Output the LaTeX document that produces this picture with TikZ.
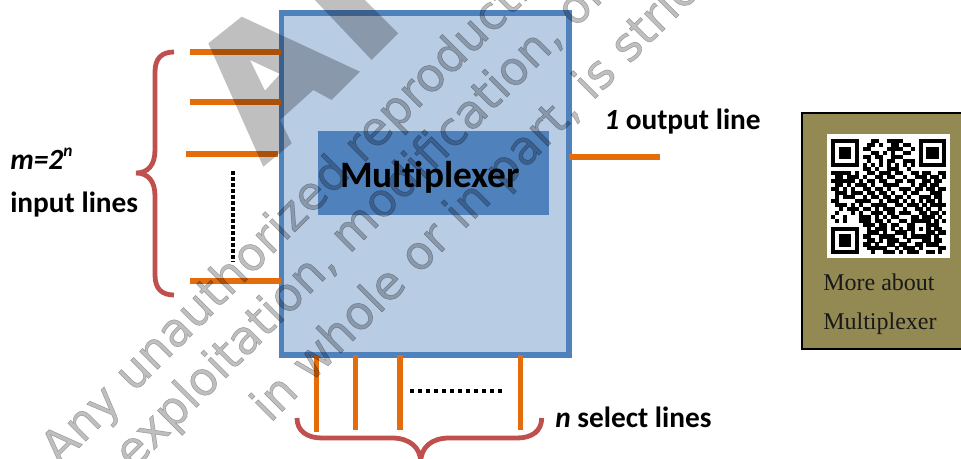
\documentclass[tikz,border=0pt]{standalone}
\usepackage{fontspec}
\setmainfont[Ligatures=NoCommon]{Carlito}
\newfontfamily\serifpanel{Liberation Serif}
\newfontfamily\markfont[FakeBold=1.2]{DejaVu Sans}
\definecolor{boxfill}{RGB}{184,204,228}
\definecolor{boxblue}{RGB}{79,129,189}
\definecolor{lineorange}{RGB}{228,108,10}
\definecolor{bracered}{RGB}{192,80,77}
\definecolor{olive}{RGB}{147,137,83}
\newcount\qrcol
\newcount\qrrownum
\newcommand{\qrscan}[1]{\ifx#1.\else\if#11\fill[black] ({831+3.98*\qrcol-0.05},{139+3.98*\qrrownum-0.05}) rectangle ++(4.08,4.08);\fi\global\advance\qrcol by 1 \expandafter\qrscan\fi}
\tikzset{
  x=0.75pt,y=-0.75pt,
  wire/.style={draw=lineorange,line width=3.9pt},
  brace/.style={draw=bracered,line width=3.6pt},
  dotsv/.style={draw=black,line width=3pt,dash pattern=on 2.7pt off 1.8pt},
  dotsh/.style={draw=black,line width=3pt,dash pattern=on 3pt off 3pt},
  lab/.style={font=\bfseries\fontsize{22}{25}\selectfont,inner sep=0pt,anchor=base west},
  paneltext/.style={font=\serifpanel\fontsize{18}{20}\selectfont,text=black!90,inner sep=0pt,anchor=base west},
  wm/.style={font=\markfont\fontsize{35}{40}\selectfont,text=black,text opacity=0.25,rotate=45,anchor=base west,inner sep=0pt},
}
\begin{document}
\begin{tikzpicture}
\useasboundingbox (0,0) rectangle (961,458);
% main block
\node[draw=boxblue,fill=boxfill,line width=4.2pt,minimum width=215.6pt,minimum height=256.5pt,inner sep=0pt,outer sep=0pt] (mux) at (425.25,184) {};
\node[fill=boxblue,minimum width=173.5pt,minimum height=63.2pt,inner sep=0pt,outer sep=0pt] (core) at (433.6,172.8) {};
\node[font=\bfseries\fontsize{28}{31}\selectfont,inner sep=0pt] (coretext) at (430,177) {Multiplexer};
% inputs
\coordinate (i1a) at (190,52); \coordinate (i1b) at (281,52);
\coordinate (i2a) at (190,102); \coordinate (i2b) at (281,102);
\coordinate (i3a) at (186,154); \coordinate (i3b) at (278,154);
\coordinate (i4a) at (190,281); \coordinate (i4b) at (281,281);
\coordinate (oa) at (569,157); \coordinate (ob) at (660,157);
\draw[wire] (i1a) -- (i1b);
\draw[wire] (i2a) -- (i2b);
\draw[wire] (i3a) -- (i3b);
\draw[wire] (i4a) -- (i4b);
\draw[wire] (oa) -- (ob);
% selects
\coordinate (s1a) at (316.7,356); \coordinate (s1b) at (316.7,431.5);
\coordinate (s2a) at (355.7,355); \coordinate (s2b) at (355.7,430);
\coordinate (s3a) at (400,355); \coordinate (s3b) at (400,430);
\coordinate (s4a) at (520.7,355); \coordinate (s4b) at (520.7,430);
\draw[wire] (s1a) -- (s1b);
\draw[wire] (s2a) -- (s2b);
\draw[wire] (s3a) -- (s3b);
\draw[wire] (s4a) -- (s4b);
% dots
\coordinate (dva) at (233,171); \coordinate (dvb) at (233,262);
\coordinate (dha) at (410,391); \coordinate (dhb) at (503,391);
\draw[dotsv] (dva) -- (dvb);
\draw[dotsh] (dha) -- (dhb);
% braces
\coordinate (lbt) at (174,52); \coordinate (lbm) at (136,173); \coordinate (lbb) at (174,295);
\draw[brace] (lbt) .. controls (162,52) and (155,58) .. (155,72) -- (155,150) .. controls (155,165) and (148,173) .. (lbm) .. controls (148,173) and (155,181) .. (155,196) -- (155,275) .. controls (155,289) and (162,295) .. (lbb);
\coordinate (bbl) at (297,418); \coordinate (bbm) at (420.7,462); \coordinate (bbr) at (541.7,418);
\draw[brace] (bbl) .. controls (297,431) and (307,438) .. (322,438) -- (392,438) .. controls (410,438) and (420.7,448) .. (bbm) .. controls (420.7,448) and (431,438) .. (449,438) -- (517,438) .. controls (532,438) and (541.7,431) .. (bbr);
% labels
\node[lab] (mlab) at (10,169) {\textit{m=2\raisebox{0.42em}{\fontsize{13}{14}\selectfont n}}};
\node[lab] (ilab) at (10,212) {input lines};
\node[lab] (olab) at (604,129) {\textit{1} output line};
\node[lab] (slab) at (555,427) {\textit{n} select lines};
% watermark
\begin{scope}
\clip (0,0) rectangle (790,458);
\fill[black,opacity=0.25,even odd rule] (241.7,16.7) -- (208.3,43.3) -- (263.3,166.7) -- (291.7,143.3) -- (280,120) -- (313.3,90) -- (331.7,100) -- (360,71.7) -- cycle (250,60) -- (280,74) -- (265,90.7) -- cycle;
\fill[black,opacity=0.25] (313,-2) -- (371.7,60) -- (398.3,33.3) -- (363,-2) -- cycle;
\node[wm] (w1) at (60,467) {Any unauthorized reproduction,};
\node[wm] (w2) at (133,471) {exploitation, modification, or};
\node[wm] (w3) at (270,424) {in whole or in part, is strictly};
\end{scope}
% panel
\node[draw=black,fill=olive,line width=1.5pt,minimum width=130pt,minimum height=177pt,inner sep=0pt,outer sep=0pt,anchor=north west] (panel) at (802,113) {};
\node[fill=white,minimum width=92pt,minimum height=93pt,inner sep=0pt,outer sep=0pt,anchor=north west] (qrbg) at (827,134) {};
\qrrownum=0
\foreach \qrbits in {
11111110001100111100001111111,
10000010011010011011001000001,
10111010110000111100101011101,
10111010001101010011001011101,
10111010110110011100001011101,
10000010010010110011101000001,
11111110101010101010101111111,
00000000110100111001000000000,
11111010011011101100110110011,
01101110100110110010011101101,
11111101011011001101100110110,
01101011101001111000101101100,
11010100110110100111011011011,
01110111011011010010110001110,
01011100101101101101001110110,
11000011110010111010101011010,
01110101001111001101110101111,
00101110110101110010011010010,
01000101001110110111001101101,
10010001110101011000110111010,
01010001110110100110111110101,
00000000111011011001100011100,
11111110010111010101101010110,
10000010011101001110100011011,
10111010110011110010111110100,
10111010011010111001000110110,
10111010110100110110011011100,
10000010011111001011101000011,
11111110001001110101110011010}{
  \global\qrcol=0
  \expandafter\qrscan\qrbits.
  \global\advance\qrrownum by 1
}
\node[paneltext] (p1) at (823,290) {More about};
\node[paneltext] (p2) at (823,329) {Multiplexer};
\end{tikzpicture}
\end{document}
